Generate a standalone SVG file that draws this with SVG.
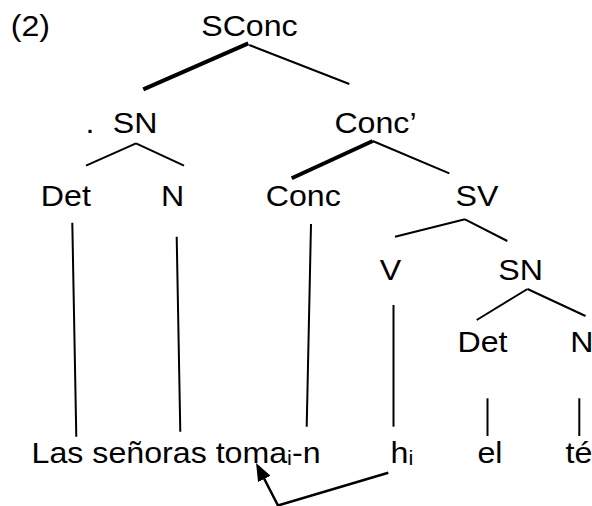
<svg xmlns="http://www.w3.org/2000/svg" width="592" height="506" viewBox="0 0 592 506">
<defs>
<style>
text{font-family:"Liberation Sans",Arial,sans-serif;font-size:29.5px;fill:#000}
.sub{font-size:20px}
.thin{stroke:#000;stroke-width:2;fill:none}
.thick{stroke:#000;stroke-width:4;fill:none}
.arr{stroke:#000;stroke-width:2.5;fill:none}
</style>
<marker id="ah" markerUnits="userSpaceOnUse" markerWidth="18" markerHeight="14" refX="14" refY="7" orient="auto">
<path d="M0,0 L18,7 L0,14 Z" fill="#000"/>
</marker>
</defs>
<rect width="592" height="506" fill="#fff"/>
<g id="connectors">
<path class="thick" d="M248.3,43.3 L143.3,89.3"/>
<path class="thin" d="M249.3,45 L349.3,84"/>
<path class="thin" d="M136,143.3 L86,165.7"/>
<path class="thin" d="M136,143.3 L184,165.7"/>
<path class="thick" d="M372.7,141 L291.7,178.3"/>
<path class="thin" d="M372.7,141 L449.3,173.3"/>
<path class="thin" d="M465,219.3 L395,236.7"/>
<path class="thin" d="M465,219.3 L507.3,241"/>
<path class="thin" d="M527.5,289 L476.7,320"/>
<path class="thin" d="M527.5,289 L585.5,316"/>
<path class="thin" d="M72.3,222.7 L76.3,436.7"/>
<path class="thin" d="M176.7,236.7 L180.3,431.7"/>
<path class="thin" d="M311,224 L306.7,426.7"/>
<path class="thin" d="M393.5,305 L393.5,426.7"/>
<path class="thin" d="M487.5,398.3 L487.5,436"/>
<path class="thin" d="M579.3,398.3 L579.3,436"/>
<path class="arr" d="M388.3,472.7 L278,505.5 L257.9,466.5" marker-end="url(#ah)"/>
</g>
<g id="label2"><text transform="translate(10.7,36) scale(1.09,1)">(2)</text></g>
<g id="SConc"><text transform="translate(201.2,36) scale(1.09,1)">SConc</text></g>
<g id="SN1"><text transform="translate(85.4,132.5) scale(1.09,1)">.<tspan x="25.1">SN</tspan></text></g>
<g id="Det1"><text transform="translate(40.8,205.5) scale(1.09,1)">Det</text></g>
<g id="N1"><text transform="translate(160.9,205.5) scale(1.09,1)">N</text></g>
<g id="ConcBar"><text transform="translate(334.4,133.3) scale(1.09,1)">Conc’</text></g>
<g id="Conc"><text transform="translate(265.7,206) scale(1.09,1)">Conc</text></g>
<g id="SV"><text transform="translate(455.5,205.5) scale(1.09,1)">SV</text></g>
<g id="V"><text transform="translate(379.7,280) scale(1.09,1)">V</text></g>
<g id="SN2"><text transform="translate(498.2,280) scale(1.09,1)">SN</text></g>
<g id="Det2"><text transform="translate(457.5,352.3) scale(1.09,1)">Det</text></g>
<g id="N2"><text transform="translate(570.3,352.3) scale(1.09,1)">N</text></g>
<g id="w_las"><text transform="translate(31.6,463.3) scale(1.09,1)">Las señoras toma<tspan class="sub" dy="2">i</tspan><tspan dy="-2">-n</tspan></text></g>
<g id="w_h"><text transform="translate(390.6,463.3) scale(1.09,1)">h<tspan class="sub" dy="2">i</tspan></text></g>
<g id="w_el"><text transform="translate(477.4,463.3) scale(1.09,1)">el</text></g>
<g id="w_te"><text transform="translate(565.5,463.3) scale(1.09,1)">té</text></g>
</svg>
